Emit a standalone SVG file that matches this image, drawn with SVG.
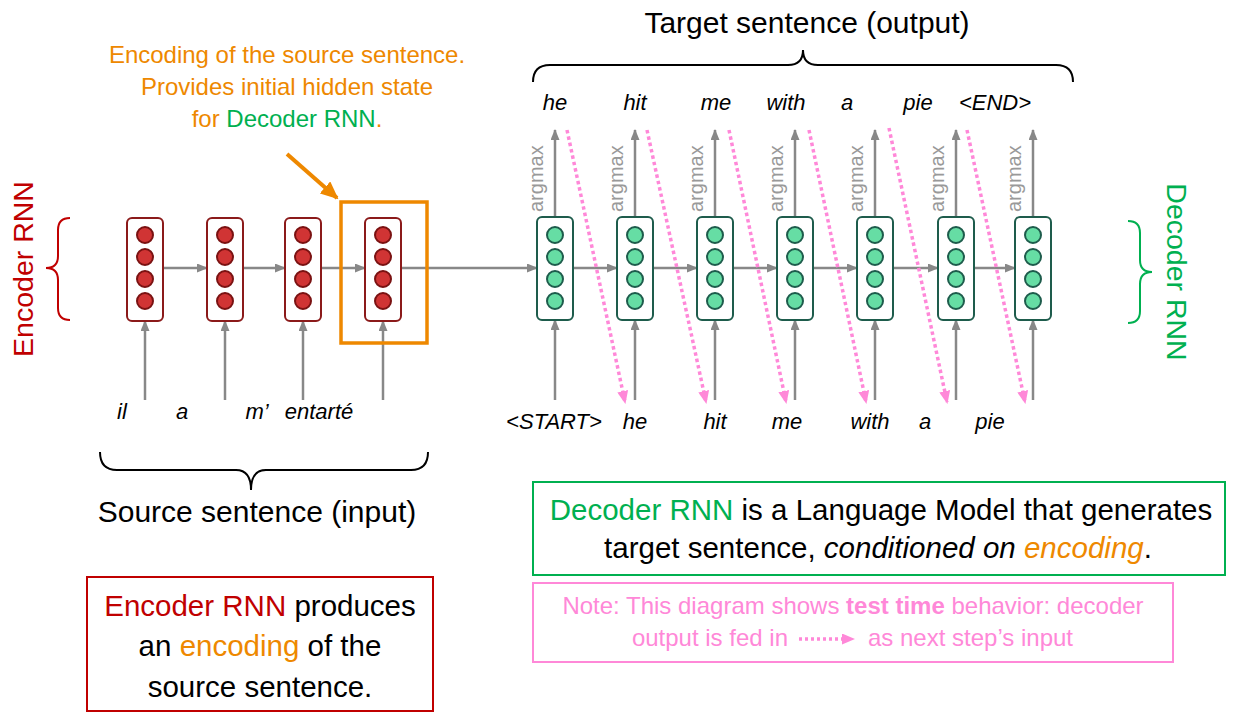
<svg xmlns="http://www.w3.org/2000/svg" width="1247" height="726" viewBox="0 0 1247 726">
<style>
text{font-family:"Liberation Sans",Arial,sans-serif;}
.w{font-style:italic;font-size:22px;fill:#000;}
.big{font-size:30px;fill:#000;}
.box{font-size:29.5px;fill:#000;}
.note{font-size:24px;fill:#FF88D8;}
.org{fill:#EE8800;}
.grn{fill:#00B050;}
.red{fill:#C00000;}
.am{font-size:20px;fill:#999;}
.ecell{fill:#fff;stroke:#8B1A1A;stroke-width:2;}
.ec{fill:#D03434;stroke:#7A1212;stroke-width:2;}
.dcell{fill:#fff;stroke:#1E5C4C;stroke-width:2;}
.dc{fill:#66DDA4;stroke:#1E5C4C;stroke-width:2;}
.ga{stroke:#888;stroke-width:2.5;fill:none;marker-end:url(#ah);}
.pa{stroke:#FF88D8;stroke-width:3.5;stroke-dasharray:3.5 3;fill:none;marker-end:url(#ph);}
.brace{fill:none;stroke-width:2;}
</style>
<defs>
<marker id="ah" markerUnits="userSpaceOnUse" markerWidth="11" markerHeight="9" refX="10" refY="4.5" orient="auto"><path d="M0,0 L11,4.5 L0,9 z" fill="#888"/></marker>
<marker id="ph" markerUnits="userSpaceOnUse" markerWidth="13" markerHeight="11" refX="11" refY="5.5" orient="auto"><path d="M0,0 L13,5.5 L0,11 z" fill="#FF88D8"/></marker>
<marker id="oh" markerUnits="userSpaceOnUse" markerWidth="18" markerHeight="16" refX="16" refY="8" orient="auto"><path d="M0,0 L18,8 L0,16 z" fill="#EE8800"/></marker>
<g id="ecircles"><circle cx="0" cy="235" r="8" class="ec"/><circle cx="0" cy="257" r="8" class="ec"/><circle cx="0" cy="279" r="8" class="ec"/><circle cx="0" cy="301" r="8" class="ec"/></g>
<g id="dcircles"><circle cx="0" cy="235" r="8" class="dc"/><circle cx="0" cy="257" r="8" class="dc"/><circle cx="0" cy="279" r="8" class="dc"/><circle cx="0" cy="301" r="8" class="dc"/></g>
</defs>
<rect width="1247" height="726" fill="#fff"/>

<g id="connectors">
<line x1="163" y1="268" x2="207" y2="268" class="ga"/>
<line x1="243" y1="268" x2="285" y2="268" class="ga"/>
<line x1="321" y1="268" x2="365" y2="268" class="ga"/>
<line x1="401" y1="268" x2="537" y2="268" class="ga"/>
<line x1="573" y1="268" x2="617" y2="268" class="ga"/>
<line x1="653" y1="268" x2="697" y2="268" class="ga"/>
<line x1="733" y1="268" x2="777" y2="268" class="ga"/>
<line x1="813" y1="268" x2="857" y2="268" class="ga"/>
<line x1="893" y1="268" x2="938" y2="268" class="ga"/>
<line x1="974" y1="268" x2="1015" y2="268" class="ga"/>
<line x1="145" y1="400" x2="145" y2="321" class="ga"/>
<line x1="225" y1="400" x2="225" y2="321" class="ga"/>
<line x1="303" y1="400" x2="303" y2="321" class="ga"/>
<line x1="383" y1="400" x2="383" y2="321" class="ga"/>
<line x1="555" y1="400" x2="555" y2="320" class="ga"/>
<line x1="635" y1="400" x2="635" y2="320" class="ga"/>
<line x1="715" y1="400" x2="715" y2="320" class="ga"/>
<line x1="795" y1="400" x2="795" y2="320" class="ga"/>
<line x1="875" y1="400" x2="875" y2="320" class="ga"/>
<line x1="956" y1="400" x2="956" y2="320" class="ga"/>
<line x1="1033" y1="400" x2="1033" y2="320" class="ga"/>
<line x1="555" y1="217" x2="555" y2="130" class="ga"/>
<line x1="635" y1="217" x2="635" y2="130" class="ga"/>
<line x1="715" y1="217" x2="715" y2="130" class="ga"/>
<line x1="795" y1="217" x2="795" y2="130" class="ga"/>
<line x1="875" y1="217" x2="875" y2="130" class="ga"/>
<line x1="956" y1="217" x2="956" y2="130" class="ga"/>
<line x1="1033" y1="217" x2="1033" y2="130" class="ga"/>
<line x1="567" y1="130" x2="625" y2="402" class="pa"/>
<line x1="647" y1="130" x2="706" y2="402" class="pa"/>
<line x1="729" y1="130" x2="786" y2="402" class="pa"/>
<line x1="809" y1="130" x2="866" y2="402" class="pa"/>
<line x1="889" y1="128" x2="947" y2="402" class="pa"/>
<line x1="967" y1="130" x2="1025" y2="402" class="pa"/>
<line x1="287" y1="154" x2="337" y2="198" stroke="#EE8800" stroke-width="4" marker-end="url(#oh)"/>
</g>

<g id="argmax-labels">
<text class="am" transform="translate(543,212) rotate(-90)">argmax</text>
<text class="am" transform="translate(623,212) rotate(-90)">argmax</text>
<text class="am" transform="translate(703,212) rotate(-90)">argmax</text>
<text class="am" transform="translate(783,212) rotate(-90)">argmax</text>
<text class="am" transform="translate(863,212) rotate(-90)">argmax</text>
<text class="am" transform="translate(944,212) rotate(-90)">argmax</text>
<text class="am" transform="translate(1021,212) rotate(-90)">argmax</text>
</g>

<g id="enc1"><rect x="127" y="218" width="36" height="103" rx="5" class="ecell"/><use href="#ecircles" x="145"/></g>
<g id="enc2"><rect x="207" y="218" width="36" height="103" rx="5" class="ecell"/><use href="#ecircles" x="225"/></g>
<g id="enc3"><rect x="285" y="218" width="36" height="103" rx="5" class="ecell"/><use href="#ecircles" x="303"/></g>
<g id="enc4"><rect x="365" y="218" width="36" height="103" rx="5" class="ecell"/><use href="#ecircles" x="383"/></g>
<g id="encoding-box"><rect x="341" y="202" width="86" height="141" fill="none" stroke="#EE8800" stroke-width="3.5"/></g>

<g id="dec1"><rect x="537" y="217" width="36" height="103" rx="5" class="dcell"/><use href="#dcircles" x="555"/></g>
<g id="dec2"><rect x="617" y="217" width="36" height="103" rx="5" class="dcell"/><use href="#dcircles" x="635"/></g>
<g id="dec3"><rect x="697" y="217" width="36" height="103" rx="5" class="dcell"/><use href="#dcircles" x="715"/></g>
<g id="dec4"><rect x="777" y="217" width="36" height="103" rx="5" class="dcell"/><use href="#dcircles" x="795"/></g>
<g id="dec5"><rect x="857" y="217" width="36" height="103" rx="5" class="dcell"/><use href="#dcircles" x="875"/></g>
<g id="dec6"><rect x="938" y="217" width="36" height="103" rx="5" class="dcell"/><use href="#dcircles" x="956"/></g>
<g id="dec7"><rect x="1015" y="217" width="36" height="103" rx="5" class="dcell"/><use href="#dcircles" x="1033"/></g>

<g id="source-words" text-anchor="middle">
<text class="w" x="122" y="419">il</text>
<text class="w" x="182" y="419">a</text>
<text class="w" x="257" y="419">m’</text>
<text class="w" x="319" y="419">entarté</text>
</g>
<g id="target-words" text-anchor="middle">
<text class="w" x="555" y="110">he</text>
<text class="w" x="635" y="110">hit</text>
<text class="w" x="716" y="110">me</text>
<text class="w" x="786" y="110">with</text>
<text class="w" x="847" y="110">a</text>
<text class="w" x="918" y="110">pie</text>
<text class="w" x="995" y="110">&lt;END&gt;</text>
</g>
<g id="decoder-inputs" text-anchor="middle">
<text class="w" x="554" y="429">&lt;START&gt;</text>
<text class="w" x="635" y="429">he</text>
<text class="w" x="715" y="429">hit</text>
<text class="w" x="787" y="429">me</text>
<text class="w" x="870" y="429">with</text>
<text class="w" x="925" y="429">a</text>
<text class="w" x="990" y="429">pie</text>
</g>

<g id="encoder-label">
<path class="brace" stroke="#C00000" d="M70,218 Q58,218 58,230 L58,256 Q58,268 46,268 Q58,268 58,280 L58,308 Q58,320 70,320"/>
<text class="red" font-size="28.5" text-anchor="middle" transform="translate(33,269) rotate(-90)">Encoder RNN</text>
</g>
<g id="decoder-label">
<path class="brace" stroke="#00B050" d="M1128,221 Q1140,221 1140,233 L1140,260 Q1140,272 1152,272 Q1140,272 1140,284 L1140,311 Q1140,323 1128,323"/>
<text class="grn" font-size="28.5" text-anchor="middle" transform="translate(1167,272) rotate(90)">Decoder RNN</text>
</g>

<g id="target-label">
<path class="brace" stroke="#000" d="M533,82 Q533,65 550,65 L788,65 Q803,65 803,50 Q803,65 818,65 L1056,65 Q1073,65 1073,82"/>
<text class="big" x="807" y="33" text-anchor="middle">Target sentence (output)</text>
</g>
<g id="source-label">
<path class="brace" stroke="#000" d="M100,452 Q100,470 117,470 L236,470 Q251,470 251,490 Q251,470 266,470 L411,470 Q428,470 428,452"/>
<text class="big" x="257" y="522" text-anchor="middle">Source sentence (input)</text>
</g>

<g id="encoding-note" text-anchor="middle" font-size="24">
<text class="org" x="287" y="63">Encoding of the source sentence.</text>
<text class="org" x="287" y="95">Provides initial hidden state</text>
<text class="org" x="287" y="127">for <tspan class="grn">Decoder RNN</tspan>.</text>
</g>

<g id="encoder-box">
<rect x="87" y="577" width="346" height="134" fill="none" stroke="#C00000" stroke-width="2"/>
<text class="box" x="260" y="616" text-anchor="middle"><tspan class="red">Encoder RNN</tspan> produces</text>
<text class="box" x="260" y="656" text-anchor="middle">an <tspan class="org">encoding</tspan> of the</text>
<text class="box" x="260" y="697" text-anchor="middle">source sentence.</text>
</g>

<g id="decoder-box">
<rect x="533" y="482" width="692" height="93" fill="none" stroke="#00B050" stroke-width="2"/>
<text class="box" x="881" y="520" text-anchor="middle"><tspan class="grn">Decoder RNN</tspan> is a Language Model that generates</text>
<text class="box" x="878" y="558" text-anchor="middle">target sentence, <tspan font-style="italic">conditioned on </tspan><tspan font-style="italic" class="org">encoding</tspan>.</text>
</g>

<g id="note-box">
<rect x="533" y="583" width="640" height="79" fill="none" stroke="#FF88D8" stroke-width="2"/>
<text class="note" x="853" y="614" text-anchor="middle">Note: This diagram shows <tspan font-weight="bold">test time</tspan> behavior: decoder</text>
<text class="note" x="788" y="646" text-anchor="end">output is fed in</text>
<line x1="799" y1="639" x2="853" y2="639" stroke="#FF88D8" stroke-width="3.5" stroke-dasharray="3 3" marker-end="url(#ph)"/>
<text class="note" x="868" y="646">as next step’s input</text>
</g>
</svg>
